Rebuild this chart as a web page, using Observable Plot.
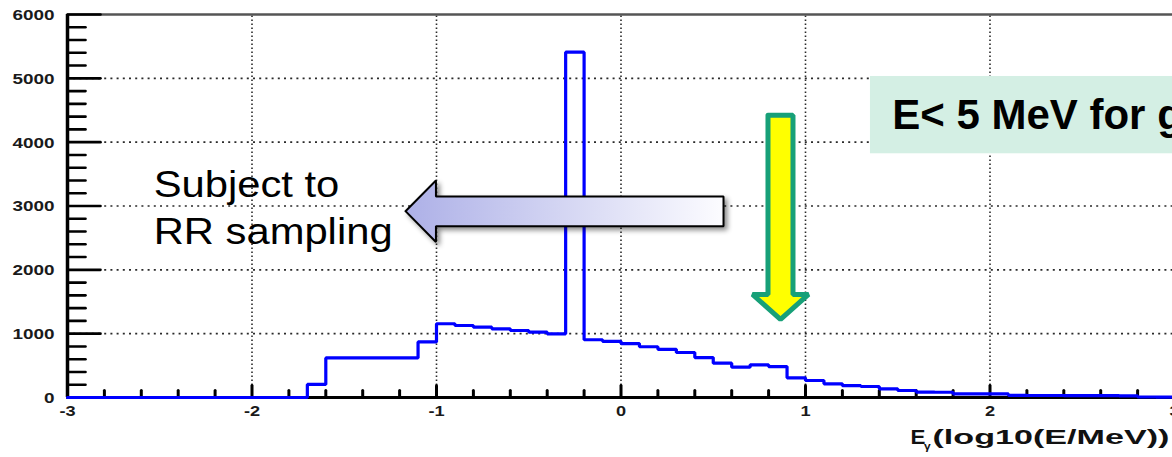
<!DOCTYPE html>
<html>
<head>
<meta charset="utf-8">
<script src="https://cdn.jsdelivr.net/npm/d3@7"></script>
<script src="https://cdn.jsdelivr.net/npm/@observablehq/plot@0.6"></script>
<style>
  html, body { margin: 0; padding: 0; background: #fff; overflow: hidden; }
</style>
</head>
<body>
<div id="chart"></div>
<script>
// Photon spectrum: counts per 0.1-wide bin of log10(E/MeV), bins -3.0 ... 2.9
const binLow = d3.range(60).map(i => (i - 30) / 10);
const counts = [
  0, 0, 0, 0, 0, 0, 0, 0, 0, 0, 0, 0, 0,          // -3.0 .. -1.8
  205,                                            // -1.7
  620, 620, 620, 620, 620,                        // -1.6 .. -1.2
  870,                                            // -1.1
  1155, 1128, 1102, 1076, 1050, 1024, 998,        // -1.0 .. -0.4
  5410,                                           // -0.3
  905, 880,                                       // -0.2, -0.1
  845, 795, 755, 705, 625, 538, 475, 512, 485, 308, // 0.0 .. 0.9
  266, 214, 185, 172, 136, 110, 85, 82, 58, 57,   // 1.0 .. 1.9
  56, 32, 31, 31, 30, 30, 28, 27, 8, 6            // 2.0 .. 2.9
];
const xMax = 3;

// Axis ticks and labels
const xMajor = [-3, -2, -1, 0, 1, 2, 3];
const xTickLabels = ["-3", "-2", "-1", "0", "1", "2", "3"];
const xMinor = d3.range(-30, 31, 2).map(i => i / 10).filter(v => !Number.isInteger(v));
const xGrid = [-2, -1, 0, 1, 2];
const yMajor = [0, 1000, 2000, 3000, 4000, 5000, 6000];
const yTickLabels = ["0", "1000", "2000", "3000", "4000", "5000", "6000"];
const yMinor = d3.range(0, 6001, 200).filter(v => v % 1000 !== 0);
const yGrid = [1000, 2000, 3000, 4000, 5000];

// Axis title pieces
const titleMain = "E";
const titleSub = "\u03B3";
const titleRest = "(log10(E/MeV))";

// Annotations
const noteLines = ["Subject to", "RR sampling"];
const noteX = [-2.533, -2.533];
const noteY = [3138, 2397];
const cutText = "E< 5 MeV for g";
const cutBox = {x1: 1.352, x2: 3, y1: 3818, y2: 5029};
const cutTextPos = {x: 1.470, y: 4210};
const rrArrowX = [-1.168, -1.003, -1.003, 0.5556, 0.5556, -1.003, -1.003, -1.168];
const rrArrowY = [2919, 3400, 3149, 3149, 2684, 2684, 2436, 2919];
const cutArrowX = [0.7967, 0.9322, 0.9322, 1.0163, 0.8645, 0.7127, 0.7967, 0.7967];
const cutArrowY = [4420, 4420, 1614, 1614, 1223, 1614, 1614, 4420];

// Derived tables for the marks
const hist = binLow.map((x, i) => ({x, n: counts[i]}));
hist.push({x: xMax, n: counts[counts.length - 1]});
const rrArrow = rrArrowX.map((x, i) => ({x, y: rrArrowY[i]}));
const cutArrow = cutArrowX.map((x, i) => ({x, y: cutArrowY[i]}));
const notes = noteLines.map((t, i) => ({t, x: noteX[i], y: noteY[i]}));

// Straight tick shape for vector marks
const tickShape = {draw(context, l) { context.moveTo(0, 0); context.lineTo(0, -l); }};

const font = "'Liberation Sans', Arial, Helvetica, sans-serif";

const chart = Plot.plot({
  width: 1172,
  height: 457,
  marginLeft: 67,
  marginTop: 14,
  marginRight: 0,
  marginBottom: 60,
  style: {background: "#fff", fontFamily: font, overflow: "hidden"},
  x: {domain: [-3, 3], range: [67, 1174], axis: null},
  y: {domain: [0, 6000], range: [397, 14], axis: null},
  marks: [
    // dotted grid
    Plot.ruleX(xGrid, {x: d => d, y1: 0, y2: 6000, stroke: "#2a2a2a", strokeWidth: 1.6, strokeDasharray: "1.6,2.4"}),
    Plot.ruleY(yGrid, {y: d => d, x1: -3, x2: 3, stroke: "#2a2a2a", strokeWidth: 1.6, strokeDasharray: "2,4.2"}),
    // frame and axes
    Plot.ruleY([6000], {stroke: "#555", strokeWidth: 2.5}),
    Plot.ruleX([-3], {y1: 0, y2: 6000, stroke: "#000", strokeWidth: 3.5}),
    Plot.ruleY([0], {stroke: "#000", strokeWidth: 3}),
    // ticks pointing into the frame
    Plot.vector(yMajor, {y: d => d, frameAnchor: "left", length: 33, rotate: 90, anchor: "start", shape: tickShape, stroke: "#000", strokeWidth: 2.6}),
    Plot.vector(yMinor, {y: d => d, frameAnchor: "left", length: 18, rotate: 90, anchor: "start", shape: tickShape, stroke: "#000", strokeWidth: 2.6}),
    Plot.vector(xMajor, {x: d => d, frameAnchor: "bottom", length: 12, rotate: 0, anchor: "start", shape: tickShape, stroke: "#000", strokeWidth: 3}),
    Plot.vector(xMinor, {x: d => d, frameAnchor: "bottom", length: 7, rotate: 0, anchor: "start", shape: tickShape, stroke: "#000", strokeWidth: 3}),
    // histogram outline
    Plot.line(hist, {x: "x", y: "n", curve: "step-after", stroke: "#0000ff", strokeWidth: 3.2, strokeLinejoin: "miter"}),
    // tick labels
    Plot.text(xMajor, {x: d => d, text: (d, i) => xTickLabels[i], frameAnchor: "bottom", lineAnchor: "bottom", dy: 18.5,
      fontSize: 14, fontWeight: "bold", fill: "#1a1a1a", ariaDescription: "x-tick-labels"}),
    Plot.text(yMajor, {y: d => d, text: (d, i) => yTickLabels[i], frameAnchor: "left", textAnchor: "end", dx: -13, dy: 1,
      fontSize: 14, fontWeight: "bold", fill: "#1a1a1a", ariaDescription: "y-tick-labels"}),
    // axis title: E, subscript gamma, then the unit expression
    Plot.text([titleMain], {text: d => d, frameAnchor: "bottom-left", textAnchor: "start", lineAnchor: "bottom", dx: 843, dy: 46.3,
      fontSize: 19.5, fontWeight: "bold", fill: "#111", ariaDescription: "x-title-main"}),
    Plot.text([titleSub], {text: d => d, frameAnchor: "bottom-left", textAnchor: "start", lineAnchor: "bottom", dx: 856.5, dy: 52.5,
      fontSize: 10, fontWeight: "bold", fill: "#111", ariaDescription: "x-title-sub"}),
    Plot.text([titleRest], {text: d => d, frameAnchor: "bottom-left", textAnchor: "start", lineAnchor: "bottom", dx: 865, dy: 46.3,
      fontSize: 19.5, fontWeight: "bold", fill: "#111", ariaDescription: "x-title-rest"}),
    // energy-cut callout
    Plot.rect([cutBox], {x1: "x1", x2: "x2", y1: "y1", y2: "y2", fill: "#d4efe4"}),
    Plot.text([cutText], {x: () => cutTextPos.x, y: () => cutTextPos.y, text: d => d, textAnchor: "start", lineAnchor: "bottom",
      fontSize: 42, fontWeight: "bold", fill: "#000"}),
    Plot.line(cutArrow, {x: "x", y: "y", fill: "#ffff00", stroke: "#17a078", strokeWidth: 5, strokeLinejoin: "miter", curve: "linear"}),
    // Russian-roulette region callout
    Plot.line(rrArrow, {x: "x", y: "y", fill: "#b0b3e8", stroke: "#000", strokeWidth: 2, strokeLinejoin: "miter", curve: "linear", ariaDescription: "rr-arrow"}),
    Plot.text(notes, {x: "x", y: "y", text: "t", textAnchor: "start", lineAnchor: "bottom", fontSize: 36, fill: "#000", ariaDescription: "rr-note"})
  ]
});

const svg = d3.select(chart);
const defs = svg.insert("defs", ":first-child");
const grad = defs.append("linearGradient").attr("id", "rrGradient").attr("x1", 0).attr("y1", 0).attr("x2", 1).attr("y2", 0);
grad.append("stop").attr("offset", 0).attr("stop-color", "#adb0e7");
grad.append("stop").attr("offset", 1).attr("stop-color", "#fcfcff");
const rrGroup = svg.select('g[aria-description="rr-arrow"]');
rrGroup.attr("fill", "url(#rrGradient)").style("filter", "drop-shadow(3px 3px 2.5px rgba(0,0,0,0.45))");
rrGroup.selectAll("path").attr("fill", "url(#rrGradient)");

// widen text horizontally about its anchor
function stretch(label, sx) {
  svg.selectAll(`g[aria-description="${label}"] text`).attr("transform", function() {
    return (this.getAttribute("transform") || "") + ` scale(${sx},1)`;
  });
}
stretch("x-tick-labels", 1.3);
stretch("y-tick-labels", 1.35);
stretch("x-title-main", 1.15);
stretch("x-title-sub", 1.2);
stretch("x-title-rest", 1.75);
stretch("rr-note", 1.16);

document.getElementById("chart").appendChild(chart);
</script>
</body>
</html>
